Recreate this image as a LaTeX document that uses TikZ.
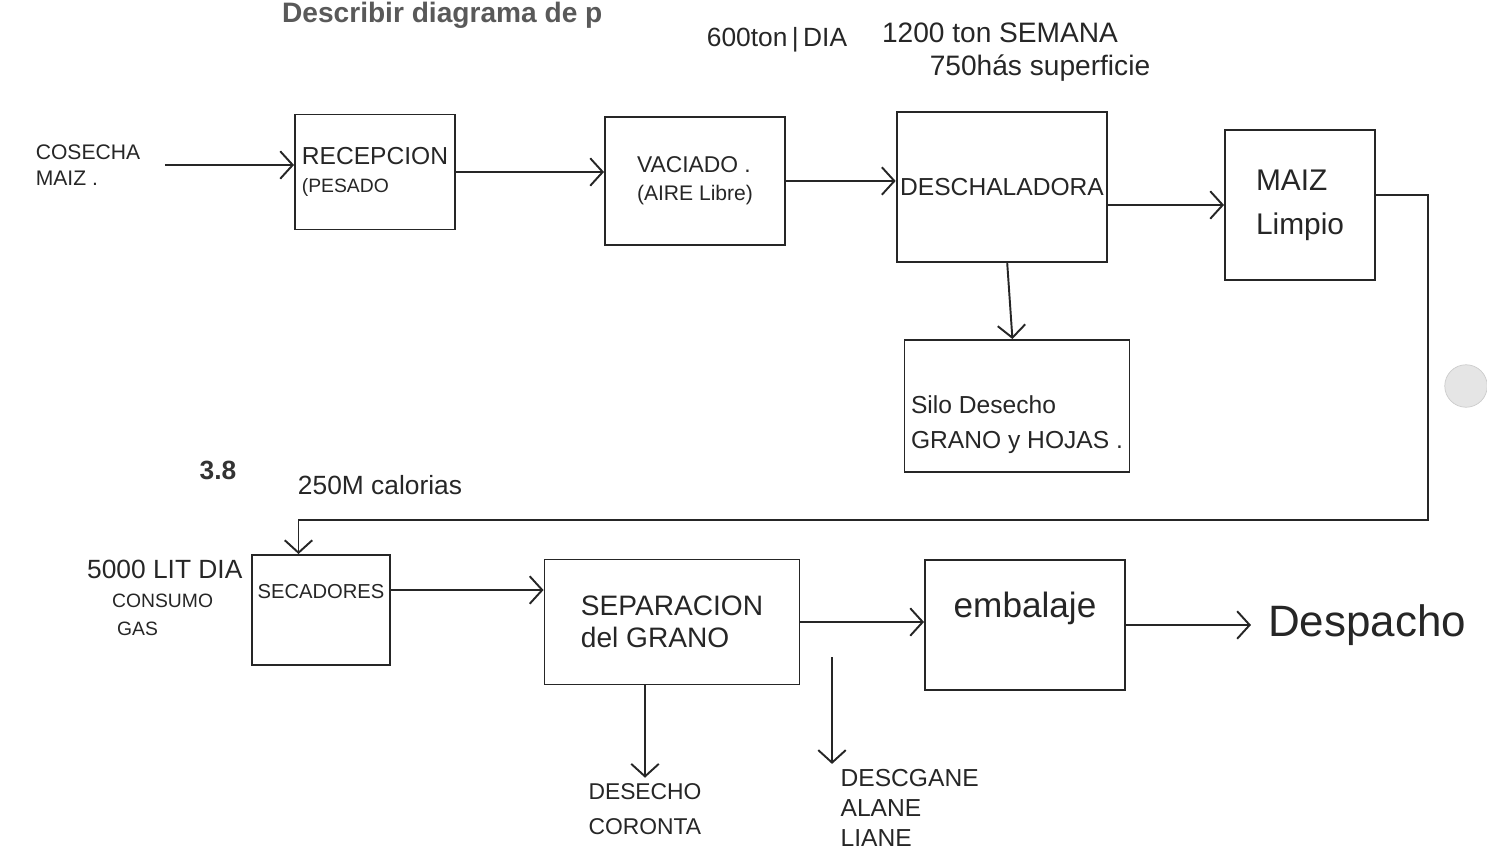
\documentclass[tikz,border=0pt]{standalone}
\usepackage{fontspec}
\setmainfont{Liberation Sans}
\usepackage{tikz}
\usetikzlibrary{arrows.meta, calc, positioning}
\newcommand{\fsz}[2]{\fontsize{#1}{#2}\selectfont}
\tikzstyle{block} = [rectangle, line width=1.1pt, draw=black!85, text=black!85, align=left, inner sep=2pt]
\tikzstyle{note} = [align=left, inner sep=1pt, text=black!85]
\tikzstyle{arrow} = [line width=1.1pt, draw=black!85, -{Straight Barb[length=2.5mm,width=5.5mm]}]

\begin{document}
\begin{tikzpicture}[font=\fsz{13}{16}]
	\useasboundingbox (0,0) rectangle (29.74,17.02);
	% printed page
	\node (Title) [anchor=north west, inner sep=1pt, text=black!65, font=\bfseries\fsz{16}{19}] at (5.6,17.02) {Describir diagrama de p};
	\node (Section) [text=black!80, font=\bfseries\fsz{15}{18}] at (4.36,7.62) {3.8};
	\node (Hole) [circle, fill=black!10, draw=black!20, minimum size=0.85cm] at (29.32,9.3) {};
	% notes on top
	\node (PerDay) [note, font=\fsz{15}{18}] at (15.54,16.22) {600ton\,|\,DIA};
	\node (PerWeek) [note, font=\fsz{16}{19}] at (20.0,16.36) {1200 ton SEMANA};
	\node (Area) [note, font=\fsz{16}{19}] at (20.8,15.66) {750hás superficie};
	% first line of the process
	\node (Cosecha) [note, font=\fsz{12}{15}] at (1.76,13.72) {COSECHA\\MAIZ .};
	\node (Recepcion) [block, minimum width=3.2cm, minimum height=2.3cm] at (7.5,13.58) {{\fsz{14}{18}RECEPCION}\\{\fsz{11}{14}(PESADO}};
	\node (Vaciado) [block, minimum width=3.6cm, minimum height=2.56cm] at (13.9,13.4) {VACIADO .\\{\fsz{12}{15}(AIRE Libre)}};
	\node (Deschaladora) [block, minimum width=4.1cm, minimum height=3.0cm, font=\fsz{14}{17}] at (20.04,13.28) {DESCHALADORA};
	\node (Maiz) [block, minimum width=3cm, minimum height=3cm, font=\fsz{17}{25}] at (26,12.92) {MAIZ\\Limpio};
	\node (Silo) [block, minimum width=4.5cm, minimum height=2.64cm, font=\fsz{14}{20}] at (20.34,8.9) {\rule{0pt}{1.1cm}Silo Desecho\\GRANO y HOJAS .};
	% second line of the process
	\node (Calorias) [note, font=\fsz{15}{18}] at (7.6,7.32) {250M calorias};
	\node (Gas) [note, anchor=west] at (1.7,5.06) {{\fsz{15}{19}5000 LIT DIA}\\{\fsz{11}{16}\hspace{0.5cm}CONSUMO}\\{\fsz{11}{14}\hspace{0.6cm}GAS}};
	\node (Secadores) [block, minimum width=2.76cm, minimum height=2.2cm, text depth=0.76cm, font=\fsz{11.5}{14}] at (6.42,4.82) {SECADORES};
	\node (Separacion) [block, minimum width=5.1cm, minimum height=2.5cm, font=\fsz{16}{18}] at (13.44,4.58) {SEPARACION\\del GRANO};
	\node (Embalaje) [block, minimum width=4cm, minimum height=2.6cm, text depth=0.8cm, font=\fsz{20}{24}] at (20.5,4.52) {embalaje};
	\node (Despacho) [note, right = 2.8cm of Embalaje, font=\fsz{25}{29}] {Despacho};
	\node (Desecho) [note, inner sep=3pt, font=\fsz{13}{20}] at (12.9,0.84) {DESECHO\\CORONTA};
	\node (Descarte) [note, inner sep=3pt, anchor=west, font=\fsz{14}{17}] at (16.7,0.86) {DESCGANE\\ALANE\\LIANE};
	\coordinate (LoopCorner) at (28.56,6.62);
	\coordinate (CutStart) at (16.64,3.88);
	% connectors
	\draw [arrow] ([xshift=0.45cm]Cosecha.east) -- (Cosecha.east -| Recepcion.west);
	\draw [arrow] (Recepcion.east) -- (Recepcion.east -| Vaciado.west);
	\draw [arrow] (Vaciado.east) -- (Vaciado.east -| Deschaladora.west);
	\draw [arrow] (Deschaladora.east |- Maiz.west) -- (Maiz.west);
	\draw [arrow] (Deschaladora) -- (Silo);
	\draw [arrow] ([yshift=0.2cm]Maiz.east) -| (LoopCorner) -| ([xshift=-0.45cm]Secadores.north);
	\draw [arrow] ([yshift=0.4cm]Secadores.east) -- ([yshift=0.4cm]Secadores.east -| Separacion.west);
	\draw [arrow] (Separacion.east) -- (Separacion.east -| Embalaje.west);
	\draw [arrow] (Embalaje.east) -- ([xshift=-0.3cm]Embalaje.east -| Despacho.west);
	\draw [arrow] (Separacion.south -| Desecho.north) -- (Desecho.north);
	\draw [arrow] (CutStart) -- (CutStart |- Descarte.north);
\end{tikzpicture}
\end{document}
